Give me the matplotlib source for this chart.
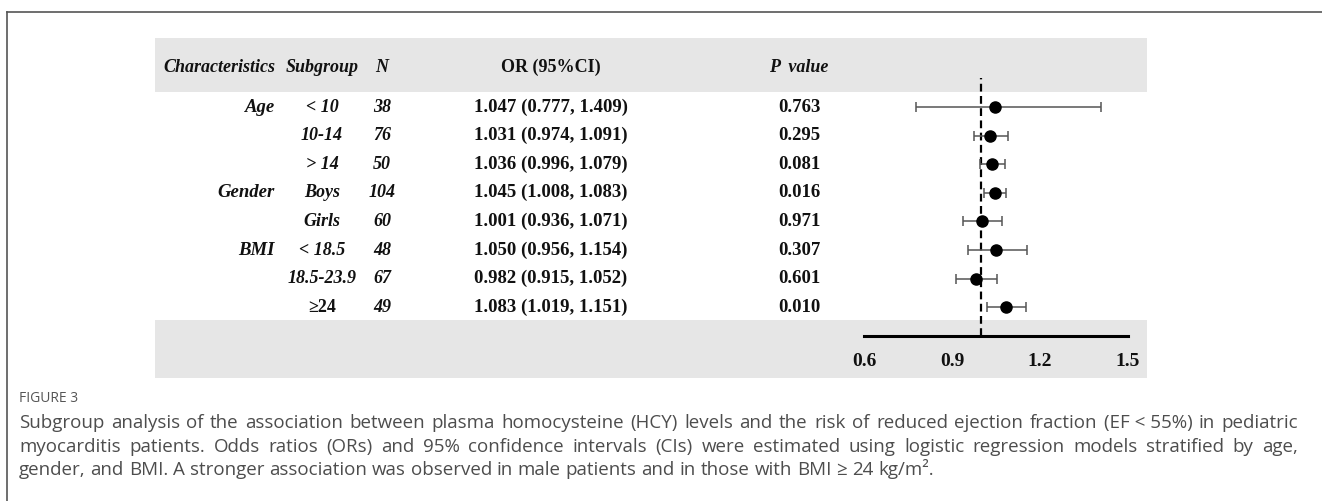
import matplotlib
matplotlib.use("Agg")
import matplotlib.pyplot as plt
from matplotlib.patches import Rectangle

# table data
headers = ["Characteristics", "Subgroup", "N", "OR (95%CI)", "P  value"]
characteristics = ["Age", "", "", "Gender", "", "BMI", "", ""]
subgroups = ["< 10", "10-14", "> 14", "Boys", "Girls", "< 18.5", "18.5-23.9", "\u226524"]
n_values = [38, 76, 50, 104, 60, 48, 67, 49]
odds_ratio = [1.047, 1.031, 1.036, 1.045, 1.001, 1.050, 0.982, 1.083]
ci_low = [0.777, 0.974, 0.996, 1.008, 0.936, 0.956, 0.915, 1.019]
ci_high = [1.409, 1.091, 1.079, 1.083, 1.071, 1.154, 1.052, 1.151]
p_values = ["0.763", "0.295", "0.081", "0.016", "0.971", "0.307", "0.601", "0.010"]
x_ticks = [0.6, 0.9, 1.2, 1.5]

caption_title = "FIGURE 3"
caption_lines = [
    "Subgroup analysis of the association between plasma homocysteine (HCY) levels and the risk of reduced ejection fraction (EF\u00a0<\u00a055%) in pediatric",
    "myocarditis patients. Odds ratios (ORs) and 95% confidence intervals (CIs) were estimated using logistic regression models stratified by age,",
    "gender, and BMI. A stronger association was observed in male patients and in those with BMI \u2265 24 kg/m\u00b2.",
]

W, H = 1322, 501
fig = plt.figure(figsize=(W / 100, H / 100), dpi=100)
bg = fig.add_axes([0, 0, 1, 1])
bg.set_xlim(0, W)
bg.set_ylim(H, 0)
bg.axis("off")

serif = ["Liberation Serif", "DejaVu Serif"]
band = "#e6e6e6"
fs = 13.5
ink = "#111111"

# frame lines
bg.plot([7, W], [12, 12], color="#555555", lw=1.2)
bg.plot([7, 7], [12, H], color="#555555", lw=1.2)

# grey bands
bg.add_patch(Rectangle((155, 38), 992, 54, color=band, lw=0))
bg.add_patch(Rectangle((155, 320), 992, 58, color=band, lw=0))

# columns
col_x = [275, 322, 382, 551, 799]
col_ha = ["right", "center", "center", "center", "center"]
header_y = 67
for i, h in enumerate(headers):
    style = "normal" if h.startswith("OR") else "italic"
    bg.text(col_x[i], header_y, h, ha=col_ha[i], va="center", family=serif,
            fontsize=13, fontweight="bold", fontstyle=style, color=ink)

row_y0, row_step = 107, 28.6
for i in range(len(subgroups)):
    y = row_y0 + i * row_step
    bg.text(col_x[0], y, characteristics[i], ha="right", va="center", family=serif,
            fontsize=13.5, fontweight="bold", fontstyle="italic", color=ink)
    sub_style = "normal" if subgroups[i].startswith("\u2265") else "italic"
    bg.text(col_x[1], y, subgroups[i], ha="center", va="center", family=serif,
            fontsize=13, fontweight="bold", fontstyle=sub_style, color=ink)
    bg.text(col_x[2], y, str(n_values[i]), ha="center", va="center", family=serif,
            fontsize=13, fontweight="bold", fontstyle="italic", color=ink)
    or_txt = f"{odds_ratio[i]:.3f} ({ci_low[i]:.3f}, {ci_high[i]:.3f})"
    bg.text(col_x[3], y, or_txt, ha="center", va="center", family=serif,
            fontsize=fs, fontweight="bold", color=ink)
    bg.text(col_x[4], y, p_values[i], ha="center", va="center", family=serif,
            fontsize=fs, fontweight="bold", color=ink)

# forest plot axes
x0_px, x1_px = 864, 1128
top_px, bot_px = 78, 336
ax = fig.add_axes([x0_px / W, 1 - bot_px / H, (x1_px - x0_px) / W, (bot_px - top_px) / H])
ax.patch.set_alpha(0)
ax.set_xlim(0.6, 1.5)
ax.set_ylim((bot_px - row_y0) / row_step, (top_px - row_y0) / row_step)
rows = list(range(len(odds_ratio)))
err = [[o - l for o, l in zip(odds_ratio, ci_low)], [h - o for o, h in zip(odds_ratio, ci_high)]]
ax.errorbar(odds_ratio, rows, xerr=err, fmt="none", ecolor="#555555", elinewidth=1.1,
            capsize=3.5, capthick=1.1, clip_on=False, zorder=2)
ax.plot(odds_ratio, rows, "o", color="black", ms=8, zorder=3, clip_on=False)
ax.axvline(1.0, color="black", lw=1.6, ls=(0, (3.5, 2)), zorder=1)
for s in ["top", "left", "right"]:
    ax.spines[s].set_visible(False)
ax.spines["bottom"].set_linewidth(2.2)
ax.spines["bottom"].set_color("black")
ax.set_yticks([])
ax.set_xticks(x_ticks)
ax.set_xticklabels([f"{t:.1f}" for t in x_ticks], family=serif, fontsize=14,
                   fontweight="bold", color=ink)
ax.tick_params(axis="x", length=0, pad=12)

# caption
cap_font = ["Open Sans", "DejaVu Sans"]
cap_color = "#4d4d4d"
bg.text(19, 402, caption_title, ha="left", va="baseline", family=cap_font,
        fontsize=10, color="#555555")

renderer = fig.canvas.get_renderer()
left, right = 19, 1298
line_y = [428, 452, 475]
for k, line in enumerate(caption_lines):
    words = line.split(" ")
    texts = [bg.text(0, line_y[k], w, ha="left", va="baseline", family=cap_font,
                     fontsize=13.5, color=cap_color) for w in words]
    widths = [t.get_window_extent(renderer).width for t in texts]
    if k < len(caption_lines) - 1:
        gap = (right - left - sum(widths)) / (len(words) - 1)
    else:
        gap = 4.9
    x = left
    for t, w in zip(texts, widths):
        t.set_x(x)
        x += w + gap

fig.savefig("out.png", dpi=100)
